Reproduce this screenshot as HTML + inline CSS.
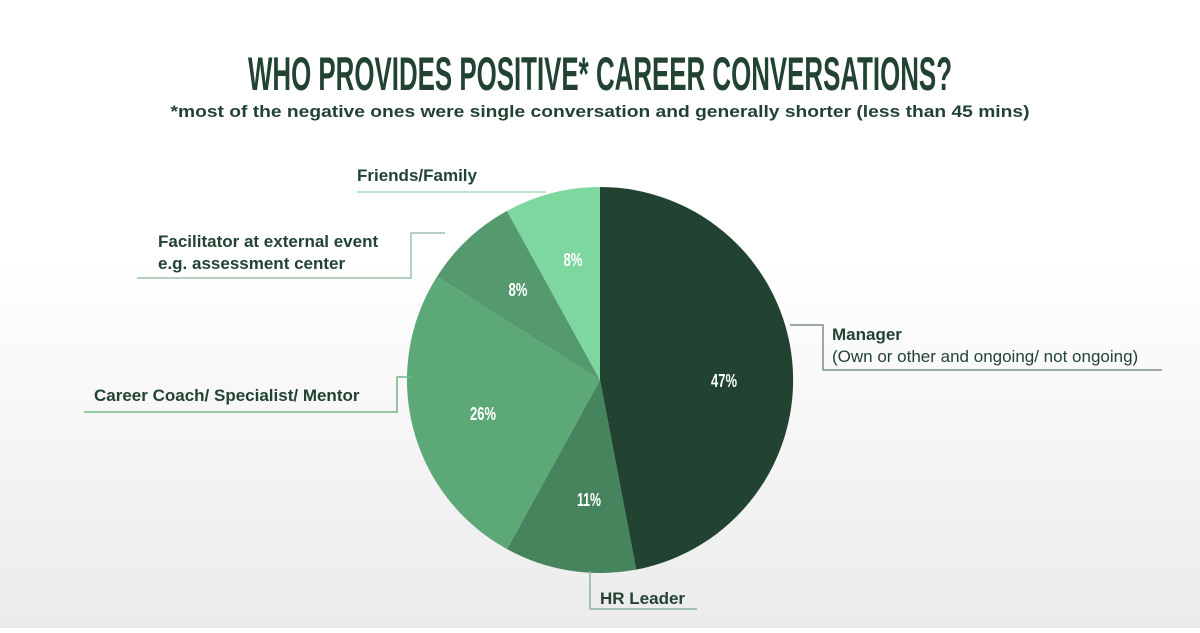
<!DOCTYPE html>
<html><head><style>
html,body{margin:0;padding:0}
body{width:1200px;height:628px;overflow:hidden;background:linear-gradient(#ffffff 0px,#ffffff 260px,#ebebeb 628px);font-family:"Liberation Sans",sans-serif}
</style></head><body>
<svg width="1200" height="628" viewBox="0 0 1200 628" xmlns="http://www.w3.org/2000/svg">
<text x="600" y="90" text-anchor="middle" font-family="'Liberation Sans Narrow','Liberation Sans',sans-serif" font-weight="bold" font-size="47" fill="#224332" textLength="704" lengthAdjust="spacingAndGlyphs">WHO PROVIDES POSITIVE* CAREER CONVERSATIONS?</text>
<text x="600" y="117" text-anchor="middle" font-weight="bold" font-size="17" fill="#224332" textLength="859" lengthAdjust="spacingAndGlyphs">*most of the negative ones were single conversation and generally shorter (less than 45 mins)</text>
<g transform="translate(600,380)">
<path d="M0,0 L0,-193 A193,193 0 0 1 36.2,189.6 Z" fill="#224332"/>
<path d="M0,0 L36.2,189.6 A193,193 0 0 1 -93,169.1 Z" fill="#45845d"/>
<path d="M0,0 L-93,169.1 A193,193 0 0 1 -163,-103.4 Z" fill="#5ca877"/>
<path d="M0,0 L-163,-103.4 A193,193 0 0 1 -93,-169.1 Z" fill="#559a6e"/>
<path d="M0,0 L-93,-169.1 A193,193 0 0 1 0,-193 Z" fill="#7dd79f"/>
</g>
<g font-family="'Liberation Sans Narrow','Liberation Sans',sans-serif" font-weight="bold" font-size="18" fill="#fff" text-anchor="middle" lengthAdjust="spacingAndGlyphs">
<text x="724" y="387" textLength="26" lengthAdjust="spacingAndGlyphs">47%</text>
<text x="589" y="506" textLength="24" lengthAdjust="spacingAndGlyphs">11%</text>
<text x="483" y="420" textLength="26" lengthAdjust="spacingAndGlyphs">26%</text>
<text x="518" y="296" textLength="19" lengthAdjust="spacingAndGlyphs">8%</text>
<text x="573" y="266" textLength="19" lengthAdjust="spacingAndGlyphs">8%</text>
</g>
<g fill="none" stroke-width="1.5">
<polyline points="357,192 546,192" stroke="#a8dcbc"/>
<polyline points="137,278 411,278 411,233 445,233" stroke="#9cc4aa"/>
<polyline points="84,412 397,412 397,377 411,377" stroke="#72b68a"/>
<polyline points="790,325 823,325 823,370 1162,370" stroke="#7a8f84"/>
<polyline points="590,571 590,609 697,609" stroke="#8fb39c"/>
</g>
<g font-size="17" fill="#224332" font-weight="bold">
<text x="357" y="181">Friends/Family</text>
<text x="158" y="247">Facilitator at external event</text>
<text x="158" y="269">e.g. assessment center</text>
<text x="94" y="401">Career Coach/ Specialist/ Mentor</text>
<text x="832" y="340">Manager</text>
<text x="600" y="604">HR Leader</text>
<text x="832" y="362" font-weight="normal">(Own or other and ongoing/ not ongoing)</text>
</g>
</svg>
</body></html>
